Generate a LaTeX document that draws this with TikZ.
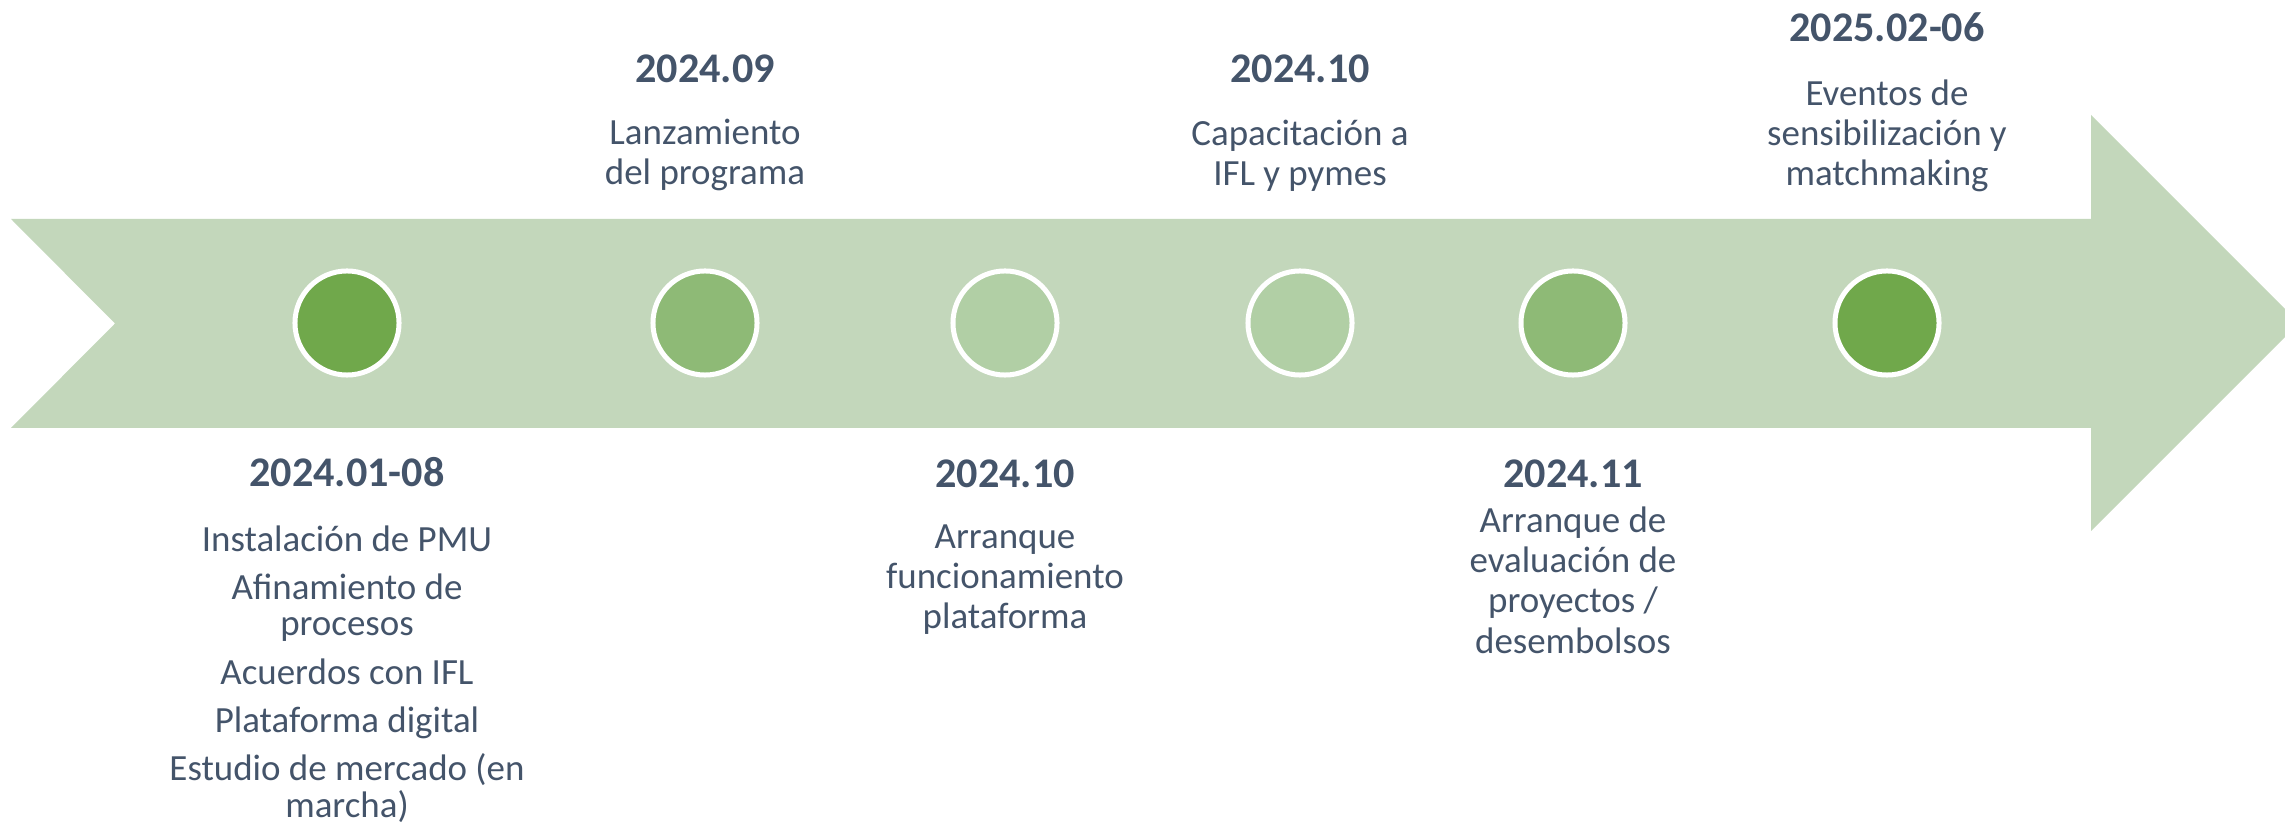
\documentclass[tikz,border=0pt]{standalone}
\usepackage{fontspec}
\setmainfont{Carlito}
\usetikzlibrary{positioning}

\definecolor{barGreen}{HTML}{C3D7BB}
\definecolor{darkGreen}{HTML}{70A84B}
\definecolor{midGreen}{HTML}{8EBA76}
\definecolor{paleGreen}{HTML}{B1CFA5}
\definecolor{slate}{HTML}{44546A}

\begin{document}
\begin{tikzpicture}[x=0.01cm,y=-0.01cm,
    dot/.style={circle,draw=white,line width=0.05cm,minimum size=1.04cm,inner sep=0pt},
    date/.style={anchor=base,inner sep=0pt,text=slate,font=\fontsize{12pt}{14pt}\selectfont\bfseries},
    info/.style={anchor=base,inner sep=0pt,text=slate,align=center,font=\fontsize{10.5pt}{11.4pt}\selectfont}]
        \useasboundingbox (0,0) rectangle (2285,828);
        % the big arrow
        \fill[barGreen] (11,219) -- (2091,219) -- (2091,115) -- (2299,323)
            -- (2091,531) -- (2091,428) -- (11,428) -- (115,323.5) -- cycle;
        % milestones
        \node[dot,fill=darkGreen] (m1) at (347,323) {};
        \node[dot,fill=midGreen] (m2) at (705,323) {};
        \node[dot,fill=paleGreen] (m3) at (1005,323) {};
        \node[dot,fill=paleGreen] (m4) at (1300,323) {};
        \node[dot,fill=midGreen] (m5) at (1573,323) {};
        \node[dot,fill=darkGreen] (m6) at (1887,323) {};
        % above the arrow (base = last line)
        \node[date] (d2) at (705,83) {2024.09};
        \node[info] (t2) at (705,185) {Lanzamiento\\del programa};
        \node[date] (d4) at (1300,83) {2024.10};
        \node[info] (t4) at (1300,186) {Capacitación a\\IFL y pymes};
        \node[date] (d6) at (1887,42) {2025.02-06};
        \node[info] (t6) at (1887,186) {Eventos de\\sensibilización y\\matchmaking};
        % below the arrow
        \node[date] (d1) at (347,487) {2024.01-08};
        \node[info,font=\fontsize{10.5pt}{10.4pt}\selectfont] (t1) at (347,817)
            {Instalación de PMU\\[3.3pt] Afinamiento de\\procesos\\[3.3pt] Acuerdos con IFL\\[3.3pt]
             Plataforma digital\\[3.3pt] Estudio de mercado (en\\marcha)};
        \node[date] (d3) at (1005,488) {2024.10};
        \node[info] (t3) at (1005,629) {Arranque\\funcionamiento\\plataforma};
        \node[date] (d5) at (1573,488) {2024.11};
        \node[info] (t5) at (1573,653) {Arranque de\\evaluación de\\proyectos /\\desembolsos};
    \end{tikzpicture}
\end{document}
